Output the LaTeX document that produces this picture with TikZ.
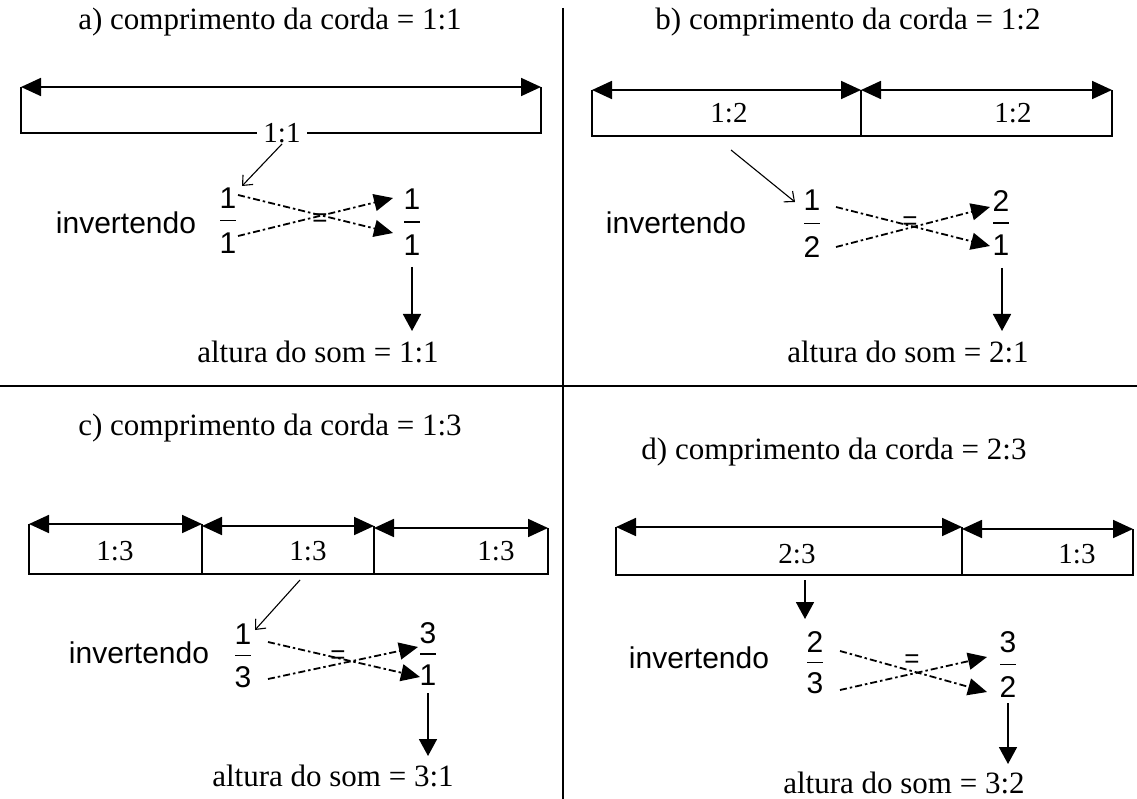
\documentclass[tikz,border=0pt]{standalone}
\usepackage{fontspec}
\setmainfont{Liberation Serif}
\setsansfont{Liberation Sans}
\usetikzlibrary{arrows.meta,calc}
\newcommand\myfrac[6]{%
  \node[sansf] (#1n) at (#2,#3) {#5};
  \node[sansf] (#1d) at (#2,#4) {#6};
  \path ($(#1n.south)!0.5!(#1d.north)$) coordinate (#1m);
  \draw[fbar] ([xshift=-8pt]#1m) -- ([xshift=8pt]#1m);
}
\begin{document}
\begin{tikzpicture}[x=1pt,y=-1pt,
  serif/.style={font=\fontsize{31}{36}\selectfont\rmfamily,inner sep=1pt},
  lab/.style={font=\fontsize{29}{34}\selectfont\rmfamily,inner sep=1pt},
  sansf/.style={font=\fontsize{30}{34}\selectfont\sffamily,inner sep=0pt},
  eqs/.style={font=\fontsize{26}{30}\selectfont\sffamily,inner sep=0pt},
  ln/.style={line width=1.8pt},
  dimarrow/.style={ln,{Triangle[length=20pt,width=18pt]}-{Triangle[length=20pt,width=18pt]}},
  downarrow/.style={ln,-{Triangle[length=17pt,width=18pt]}},
  pointer/.style={line width=1.1pt,-{Straight Barb[length=8pt,width=14pt]}},
  dasharrow/.style={line width=1.8pt,dash pattern=on 7pt off 3pt on 2.5pt off 3pt,-{Triangle[length=19pt,width=17pt]}},
  fbar/.style={line width=1.6pt},
  divider/.style={line width=1.6pt},
  gap/.style={fill=white,inner xsep=6pt}
]
\useasboundingbox (0,0) rectangle (1137,799);
% dividers
\coordinate (vt) at (563,8); \coordinate (vb) at (563,799);
\coordinate (hl) at (0,386); \coordinate (hr) at (1137,386);
\draw[divider] (vt) -- (vb);
\draw[divider] (hl) -- (hr);

% ---------- a ----------
\node[serif] (ta) at (270,22) {a) comprimento da corda = 1:1};
\coordinate (aTL) at (21,87); \coordinate (aTR) at (541,87);
\coordinate (aBL) at (21,133); \coordinate (aBR) at (541,133);
\draw[ln] (aTL) -- (aBL) -- (aBR) -- (aTR);
\draw[dimarrow] (aTL) -- (aTR);
\node[lab,gap] (la) at (282,133) {1:1};
\coordinate (pa) at (242,186);
\draw[pointer] (la.south) -- (pa);
\node[sansf] (ia) at (126,223) {invertendo};
\myfrac{fa1}{228}{198}{243}{1}{1}
\myfrac{fa2}{412}{199}{245}{1}{1}
\coordinate (da1) at (238,195); \coordinate (da2) at (393,233);
\coordinate (da3) at (238,236); \coordinate (da4) at (393,198);
\draw[dasharrow] (da1) -- (da2);
\draw[dasharrow] (da3) -- (da4);
\node[eqs] (ea) at (320,220) {=};
\coordinate (aw1) at (412,267); \coordinate (aw2) at (412,331);
\draw[downarrow] (aw1) -- (aw2);
\node[serif] (alta) at (318,352) {altura do som = 1:1};

% ---------- b ----------
\node[serif] (tb) at (848,22) {b) comprimento da corda = 1:2};
\coordinate (bTL) at (592,90); \coordinate (bTM) at (861,90); \coordinate (bTR) at (1112,90);
\coordinate (bBL) at (592,136); \coordinate (bBM) at (861,136); \coordinate (bBR) at (1112,136);
\draw[ln] (bTL) -- (bBL) -- (bBR) -- (bTR);
\draw[ln] (bTM) -- (bBM);
\draw[dimarrow] (bTL) -- (bTM);
\draw[dimarrow] (bTM) -- (bTR);
\node[lab] (lb1) at (729,113) {1:2};
\node[lab] (lb2) at (1013,113) {1:2};
\coordinate (pbs) at (731,150); \coordinate (pb) at (795,202);
\draw[pointer] (pbs) -- (pb);
\node[sansf] (ib) at (676,223) {invertendo};
\myfrac{fb1}{812}{200}{247}{1}{2}
\myfrac{fb2}{1001}{201}{245}{2}{1}
\coordinate (db1) at (836,207); \coordinate (db2) at (990,246);
\coordinate (db3) at (836,247); \coordinate (db4) at (990,207);
\draw[dasharrow] (db1) -- (db2);
\draw[dasharrow] (db3) -- (db4);
\node[eqs] (eb) at (910,223) {=};
\coordinate (bw1) at (1002,268); \coordinate (bw2) at (1002,331);
\draw[downarrow] (bw1) -- (bw2);
\node[serif] (altb) at (908,352) {altura do som = 2:1};

% ---------- c ----------
\node[serif] (tc) at (270,428) {c) comprimento da corda = 1:3};
\coordinate (cT1) at (29,524); \coordinate (cT2) at (202,524);
\coordinate (cT2b) at (202,526); \coordinate (cT3) at (374,526);
\coordinate (cT3b) at (374,528); \coordinate (cT4) at (548,528);
\coordinate (cB1) at (29,574); \coordinate (cB2) at (202,574);
\coordinate (cB3) at (374,574); \coordinate (cB4) at (548,574);
\draw[ln] (cT1) -- (cB1) -- (cB4) -- (cT4);
\draw[ln] (cT2) -- (cB2);
\draw[ln] (cT3) -- (cB3);
\draw[dimarrow] (cT1) -- (cT2);
\draw[dimarrow] (cT2b) -- (cT3);
\draw[dimarrow] (cT3b) -- (cT4);
\node[lab] (lc1) at (115,551) {1:3};
\node[lab] (lc2) at (308,551) {1:3};
\node[lab] (lc3) at (496,551) {1:3};
\coordinate (pcs) at (300,580); \coordinate (pc) at (255,630);
\draw[pointer] (pcs) -- (pc);
\node[sansf] (ic) at (139,653) {invertendo};
\myfrac{fc1}{243}{634}{677}{1}{3}
\myfrac{fc2}{428}{633}{675}{3}{1}
\coordinate (dc1) at (268,642); \coordinate (dc2) at (420,677);
\coordinate (dc3) at (268,679); \coordinate (dc4) at (418,647);
\draw[dasharrow] (dc1) -- (dc2);
\draw[dasharrow] (dc3) -- (dc4);
\node[eqs] (ec) at (338,657) {=};
\coordinate (cw1) at (428,693); \coordinate (cw2) at (428,756);
\draw[downarrow] (cw1) -- (cw2);
\node[serif] (altc) at (333,776) {altura do som = 3:1};

% ---------- d ----------
\node[serif] (td) at (834,452) {d) comprimento da corda = 2:3};
\coordinate (dT1) at (616,527); \coordinate (dT2) at (962,527);
\coordinate (dT2b) at (962,529); \coordinate (dT3) at (1133,529);
\coordinate (dB1) at (616,575); \coordinate (dB2) at (962,575); \coordinate (dB3) at (1133,575);
\draw[ln] (dT1) -- (dB1) -- (dB3) -- (dT3);
\draw[ln] (dT2) -- (dB2);
\draw[dimarrow] (dT1) -- (dT2);
\draw[dimarrow] (dT2b) -- (dT3);
\node[lab] (ld1) at (797,554) {2:3};
\node[lab] (ld2) at (1077,554) {1:3};
\coordinate (pds) at (805,580); \coordinate (pd) at (805,619);
\draw[downarrow] (pds) -- (pd);
\node[sansf] (id) at (699,658) {invertendo};
\myfrac{fd1}{815}{642}{683}{2}{3}
\myfrac{fd2}{1008}{642}{687}{3}{2}
\coordinate (dd1) at (840,651); \coordinate (dd2) at (987,692);
\coordinate (dd3) at (840,690); \coordinate (dd4) at (987,657);
\draw[dasharrow] (dd1) -- (dd2);
\draw[dasharrow] (dd3) -- (dd4);
\node[eqs] (ed) at (912,661) {=};
\coordinate (dw1) at (1008,703); \coordinate (dw2) at (1008,764);
\draw[downarrow] (dw1) -- (dw2);
\node[serif] (altd) at (904,783) {altura do som = 3:2};
\end{tikzpicture}
\end{document}
